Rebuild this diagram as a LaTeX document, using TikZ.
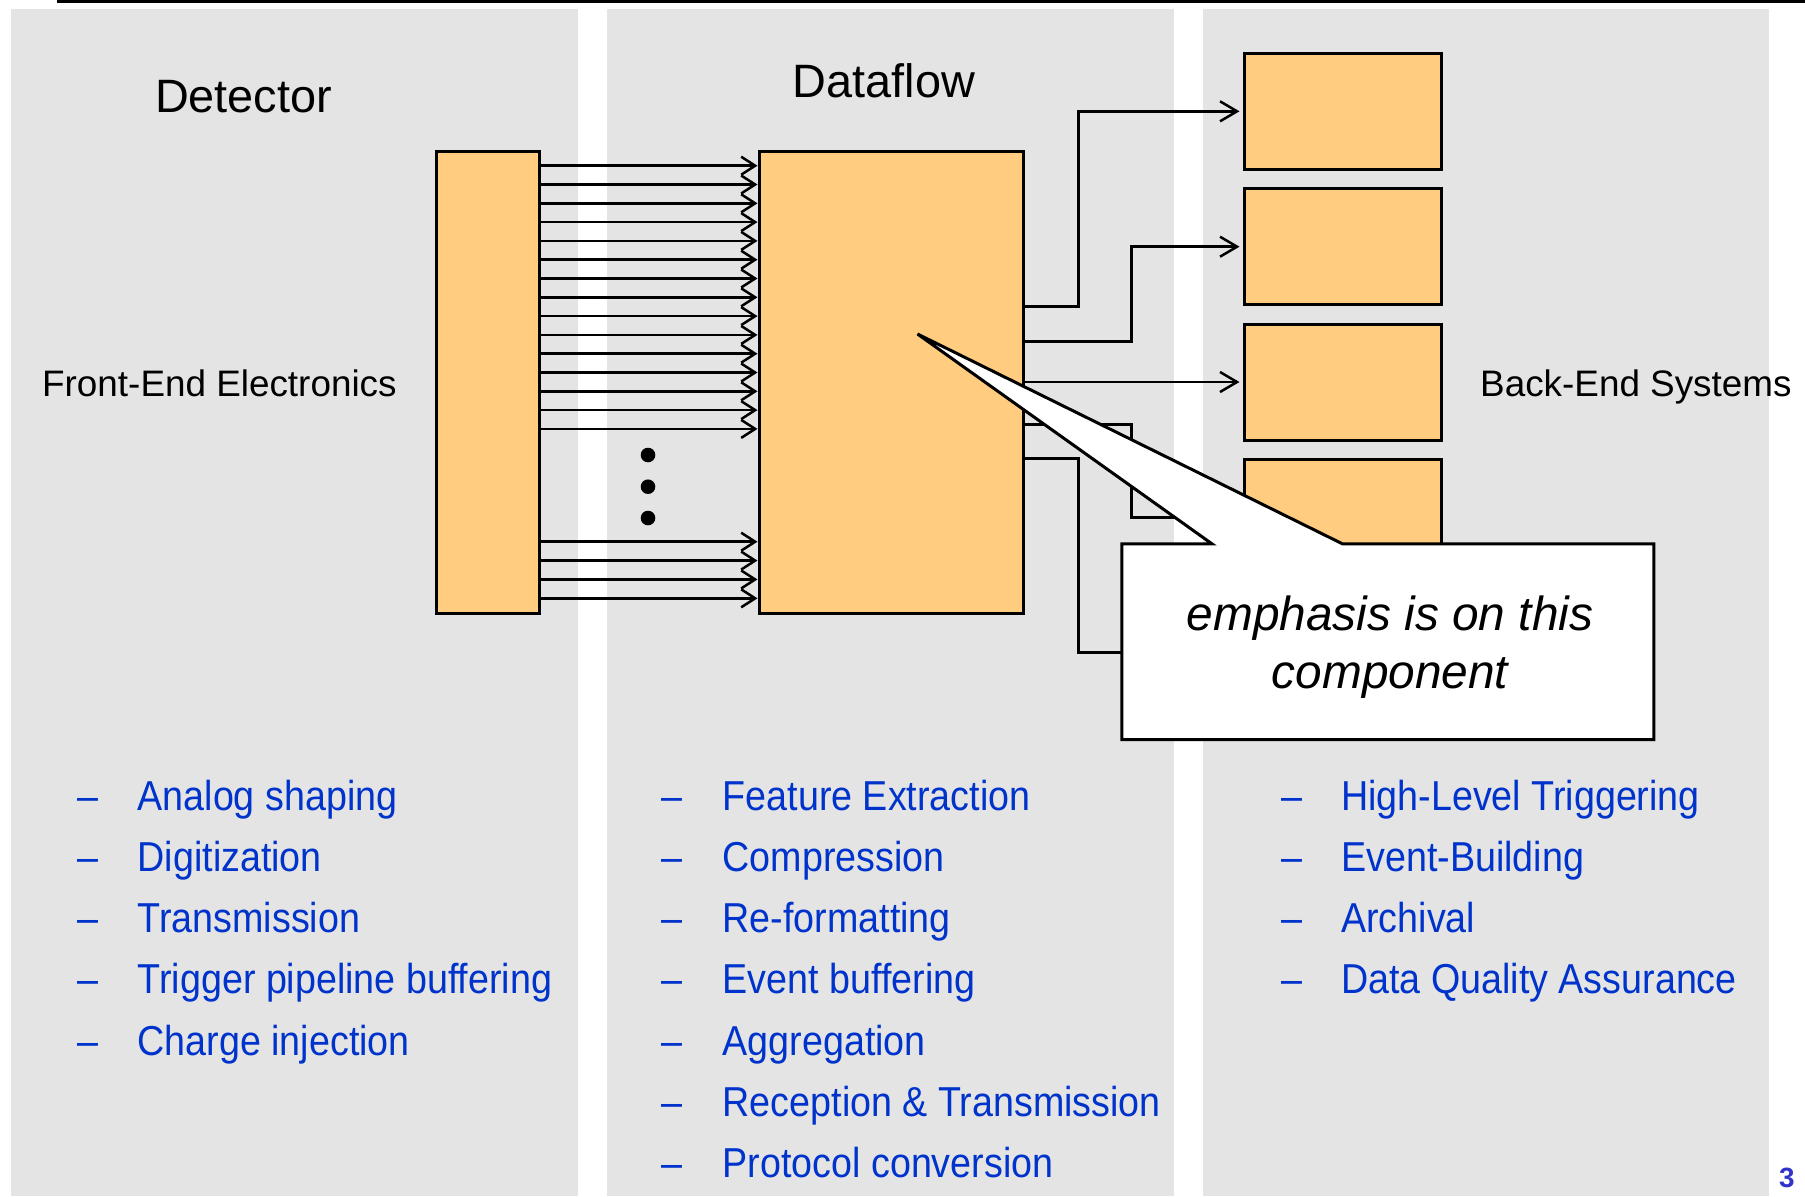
\documentclass[tikz,border=0pt]{standalone}
\usepackage{fontspec}
\setmainfont{Liberation Sans}
\newfontfamily\condfont[FakeStretch=0.9]{Liberation Sans}
\usetikzlibrary{arrows.meta}
\definecolor{panelgray}{RGB}{228,228,228}
\definecolor{boxorange}{RGB}{255,204,128}
\definecolor{itemblue}{RGB}{0,51,204}
\definecolor{pageblue}{RGB}{51,51,204}

\begin{document}
\begin{tikzpicture}[x=1bp, y=-1bp,
  unit/.style={draw=black, line width=3bp, fill=boxorange, inner sep=0pt},
  chan/.style={line width=2.5bp, -{Straight Barb[length=14bp,width=18bp]}},
  belink/.style={line width=2.5bp, -{Straight Barb[length=17bp,width=20bp]}, shorten >=3bp},
  heading/.style={font=\fontsize{47}{56}\selectfont, inner sep=0pt, anchor=base},
  sidelabel/.style={font=\fontsize{37}{44}\selectfont, inner sep=0pt, anchor=base west},
  listitem/.style={font=\condfont\fontsize{42}{50}\selectfont, text=itemblue, inner sep=0pt, anchor=base west},
  calltext/.style={font=\itshape\fontsize{48}{58}\selectfont, inner sep=0pt, anchor=base}]

\useasboundingbox (0,0) rectangle (1805,1196);

% three column panels
\fill[panelgray] (11,9) rectangle (578,1196);
\fill[panelgray] (607,9) rectangle (1174,1196);
\fill[panelgray] (1203,9) rectangle (1769,1196);

% header rule
\draw[line width=3bp] (57,1.5) -- (1805,1.5);

% column titles
\node[heading] (det) at (243.5,112) {Detector};
\node[heading] (dfl) at (884,97) {Dataflow};
\node[sidelabel] (fel) at (42,396) {Front-End Electronics};
\node[sidelabel] (bel) at (1480,396) {Back-End Systems};

% front-end, dataflow and back-end units
\node[unit, minimum width=103bp, minimum height=462bp] (fe) at (487.5,382) {};
\node[unit, minimum width=264bp, minimum height=462bp] (df) at (891,382) {};
\foreach \cy [count=\i] in {111.3,246.7,382,517.3,652.6}
  \node[unit, minimum width=197bp, minimum height=116bp] (be\i) at (1342.5,\cy) {};

% front-end to dataflow channels
\foreach \k in {0,...,14}
  \draw[chan] (fe.east |- 0,{165.7+18.8*\k}) -- (df.west |- 0,{165.7+18.8*\k});
\foreach \k in {0,...,3}
  \draw[chan] (fe.east |- 0,{541.7+18.87*\k}) -- (df.west |- 0,{541.7+18.87*\k});
\foreach \dy in {455,486.7,518}
  \fill (648,\dy) circle (7.3bp);

% dataflow to back-end links
\coordinate (busA) at (1078.3,0);
\coordinate (busB) at (1131.7,0);
\coordinate (o1) at (df.east |- 0,306.7);
\coordinate (o2) at (df.east |- 0,341.7);
\coordinate (o4) at (df.east |- 0,424.3);
\coordinate (o5) at (df.east |- 0,458.3);
\draw[belink] (o1) -- (busA |- o1) |- (be1.west);
\draw[belink] (o2) -- (busB |- o2) |- (be2.west);
\draw[belink] (df.east |- be3.west) -- (be3.west);
\draw[belink] (o4) -- (busB |- o4) |- (be4.west);
\draw[belink] (o5) -- (busA |- o5) |- (be5.west);

% callout pointing into the dataflow unit
\coordinate (tip) at (917.5,334);
\coordinate (wedgeL) at (1212,544);
\coordinate (wedgeR) at (1342.5,544);
\node[minimum width=531.6bp, minimum height=195.3bp, inner sep=0pt] (callout) at (1387.8,641.7) {};
\filldraw[fill=white, draw=black, line width=3bp]
  (callout.north west) -- (wedgeL |- callout.north) -- (tip) -- (wedgeR |- callout.north)
  -- (callout.north east) -- (callout.south east) -- (callout.south west) -- cycle;
\node[calltext] (em1) at (1390,630) {emphasis is on this};
\node[calltext] (em2) at (1390,688) {component};

% task lists
\foreach \t [count=\i] in {Analog shaping, Digitization, Transmission,
    Trigger pipeline buffering, Charge injection} {
  \node[listitem] (fedash\i) at (77,{810+61.3*(\i-1)}) {–};
  \node[listitem] (feitem\i) at (137.5,{810+61.3*(\i-1)}) {\t};
}
\foreach \t [count=\i] in {Feature Extraction, Compression, Re-formatting,
    Event buffering, Aggregation, Reception \& Transmission, Protocol conversion} {
  \node[listitem] (dfdash\i) at (661,{810+61.3*(\i-1)}) {–};
  \node[listitem] (dfitem\i) at (722.5,{810+61.3*(\i-1)}) {\t};
}
\foreach \t [count=\i] in {High-Level Triggering, Event-Building, Archival,
    Data Quality Assurance} {
  \node[listitem] (bedash\i) at (1281,{810+61.3*(\i-1)}) {–};
  \node[listitem] (beitem\i) at (1341,{810+61.3*(\i-1)}) {\t};
}

% page number
\node[font=\bfseries\fontsize{28}{30}\selectfont, text=pageblue, anchor=base west, inner sep=0pt] (pg) at (1779,1187) {3};
\end{tikzpicture}
\end{document}
